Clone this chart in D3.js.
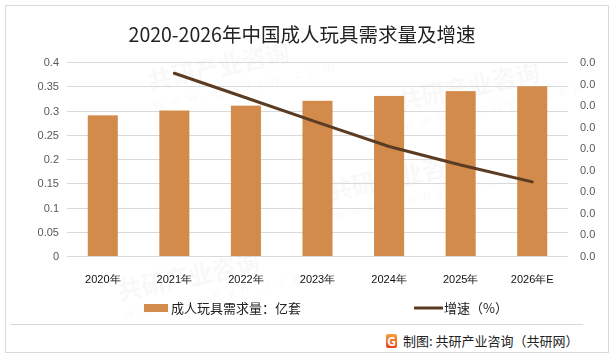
<!DOCTYPE html>
<html><head><meta charset="utf-8">
<script src="https://cdn.jsdelivr.net/npm/d3@7"></script>
<style>body{margin:0;background:#fff;}svg{display:block;font-family:"Noto Sans CJK SC","Noto Sans",sans-serif;}</style>
</head><body><svg id="c" width="615" height="358"></svg>
<script>
const title = "2020-2026年中国成人玩具需求量及增速";
const categories = ["2020年","2021年","2022年","2023年","2024年","2025年","2026年E"];
const demand = [0.29,0.30,0.31,0.32,0.33,0.34,0.35];
const growth = [null,0.0424,0.0367,0.0310,0.0254,0.0211,0.0172];
const leftTicks = [0,0.05,0.1,0.15,0.2,0.25,0.3,0.35,0.4];
const rightTicks = [0,0.005,0.01,0.015,0.02,0.025,0.03,0.035,0.04,0.045];
const legendBar = "成人玩具需求量：亿套";
const legendLine = "增速（%）";
const source = "制图: 共研产业咨询（共研网）";

const svg = d3.select("#c");
const m={l:67,r:568,t:62,b:256};
const x=d3.scaleBand().domain(categories).range([m.l,m.r]).paddingInner(0.58).paddingOuter(0.29);
const yL=d3.scaleLinear().domain([0,0.4]).range([m.b,m.t]);
const yR=d3.scaleLinear().domain([0,0.045]).range([m.b,m.t]);

// frame
svg.append("rect").attr("x",5.5).attr("y",5.5).attr("width",603).attr("height",347).attr("fill","#fff").attr("stroke","#d9d9d9");

// faint watermarks (inside the frame)
const wm=svg.append("g").attr("fill","#000").attr("opacity",0.03).attr("font-weight","bold");
[[150,90],[330,200],[120,300],[400,110]].forEach(([a,b])=>{
  const g=wm.append("g").attr("transform",`translate(${a},${b}) rotate(-12)`);
  g.append("text").attr("font-size",24).text("共研产业咨询");
  g.append("text").attr("y",20).attr("font-size",13).attr("font-weight","normal").attr("letter-spacing",7).text("www.gonyn.com");
});

svg.append("text").attr("x",302).attr("y",42).attr("text-anchor","middle").attr("font-size",19.5).attr("fill","#222").text(title);

// grid
svg.append("g").selectAll("line").data(leftTicks).join("line")
 .attr("x1",m.l).attr("x2",m.r).attr("y1",d=>Math.round(yL(d))+0.5).attr("y2",d=>Math.round(yL(d))+0.5)
 .attr("stroke","#d9d9d9").attr("stroke-width",1);

// left axis
const ga=svg.append("g").attr("transform",`translate(${m.l},0)`).call(d3.axisLeft(yL).tickValues(leftTicks).tickSize(0).tickPadding(8).tickFormat(d=>String(+d.toFixed(2))));
ga.select(".domain").remove();
ga.selectAll("text").attr("font-size",11).attr("fill","#595959").attr("font-family","Liberation Sans, Arial, sans-serif");

// right axis
const gr=svg.append("g").attr("transform",`translate(${m.r},0)`).call(d3.axisRight(yR).tickValues(rightTicks).tickSize(0).tickPadding(12).tickFormat(d3.format(".1f")));
gr.select(".domain").remove();
gr.selectAll("text").attr("font-size",11).attr("fill","#595959").attr("font-family","Liberation Sans, Arial, sans-serif");

// x axis
const gx=svg.append("g").attr("transform",`translate(0,${m.b})`).call(d3.axisBottom(x).tickSize(0).tickPadding(19));
gx.select(".domain").remove();
gx.selectAll("text").attr("font-size",11).attr("fill","#111");

// bars
svg.append("g").selectAll("rect").data(demand).join("rect")
 .attr("x",(d,i)=>x(categories[i])).attr("width",x.bandwidth())
 .attr("y",d=>yL(d)).attr("height",d=>yL(0)-yL(d)).attr("fill","#d38b4c");

// line
const line=d3.line().defined(d=>d.v!=null).x(d=>x(d.c)+x.bandwidth()/2).y(d=>yR(d.v));
svg.append("path").datum(categories.map((c,i)=>({c,v:growth[i]})))
 .attr("d",line).attr("fill","none").attr("stroke","#5b3c22").attr("stroke-width",3).attr("stroke-linecap","round");

// legend
svg.append("rect").attr("x",144).attr("y",304).attr("width",24).attr("height",8).attr("fill","#d38b4c");
svg.append("text").attr("x",171).attr("y",313).attr("font-size",13).attr("fill","#222").text(legendBar);
svg.append("line").attr("x1",414).attr("x2",443).attr("y1",308).attr("y2",308).attr("stroke","#5b3c22").attr("stroke-width",3);
svg.append("text").attr("x",444).attr("y",313).attr("font-size",13).attr("fill","#222").text(legendLine);

// separator
svg.append("line").attr("x1",10).attr("x2",583).attr("y1",324.5).attr("y2",324.5).attr("stroke","#d9d9d9");

// source with logo
const defs=svg.append("defs");
const grad=defs.append("linearGradient").attr("id","lg").attr("x1",0).attr("y1",0).attr("x2",0).attr("y2",1);
grad.append("stop").attr("offset",0).attr("stop-color","#f7a23a");
grad.append("stop").attr("offset",1).attr("stop-color","#e8431f");
const lg=svg.append("g").attr("transform","translate(386,334)");
lg.append("rect").attr("width",11).attr("height",14).attr("rx",2).attr("fill","url(#lg)");
lg.append("text").attr("x",5.5).attr("y",11.5).attr("text-anchor","middle").attr("font-size",12).attr("font-weight","bold").attr("fill","#fff").text("G");
svg.append("text").attr("x",403).attr("y",346).attr("font-size",13).attr("fill","#222").text(source);
</script></body></html>
